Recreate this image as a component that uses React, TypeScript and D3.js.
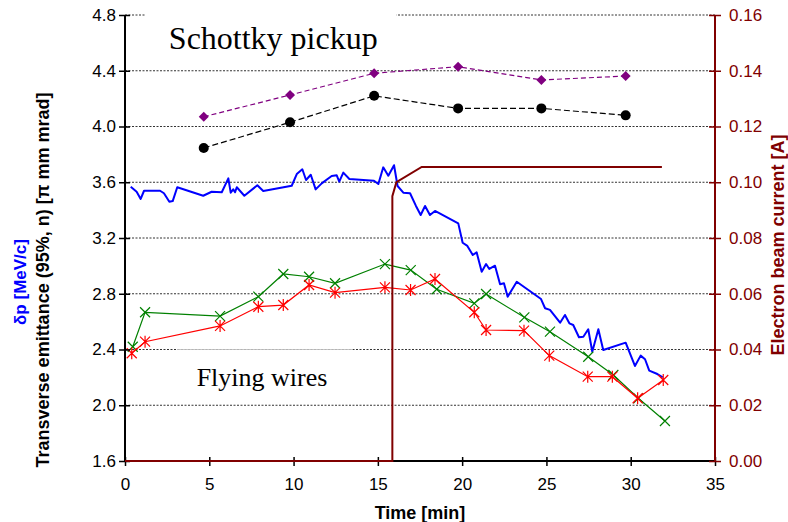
import * as d3 from "d3";
import { useEffect, useRef } from "react";

// Flying wires, horizontal plane (green x)
const wireTimesH = [0.46, 1.19, 5.64, 7.91, 9.39, 10.92, 12.46, 15.42, 16.95, 18.49, 20.72, 21.42, 23.69, 25.21, 27.48, 28.97, 30.45, 32.03];
const wireEmitH = [2.42, 2.667, 2.64, 2.779, 2.942, 2.922, 2.875, 3.013, 2.97, 2.832, 2.731, 2.798, 2.631, 2.528, 2.348, 2.217, 2.05, 1.887];
// Flying wires, vertical plane (red asterisk)
const wireTimesV = [0.4, 1.19, 5.64, 7.91, 9.39, 10.92, 12.46, 15.42, 16.94, 18.39, 20.72, 21.42, 23.67, 25.17, 27.45, 28.91, 30.41, 31.93];
const wireEmitV = [2.373, 2.456, 2.569, 2.707, 2.719, 2.863, 2.808, 2.846, 2.827, 2.906, 2.667, 2.54, 2.535, 2.356, 2.205, 2.205, 2.05, 2.181];

// Schottky pickup
const schottkyTimes = [4.67, 9.79, 14.78, 19.76, 24.7, 29.7];
const schottkyA = [4.07, 4.226, 4.382, 4.429, 4.334, 4.362];
const schottkyB = [3.846, 4.03, 4.22, 4.13, 4.13, 4.08];

// momentum spread dp (blue)
const dpTimes = [0.34, 0.69, 0.93, 1.13, 2.08, 2.31, 2.63, 2.83, 3.1, 4.64, 5.14, 5.74, 6.13, 6.27, 6.42, 6.53, 6.63, 7.08, 7.85, 8.2, 9.89, 10.19, 10.52, 10.74, 11.02, 11.31, 11.67, 12.26, 12.56, 12.71, 12.95, 13.31, 14.77, 15.03, 15.32, 15.62, 15.96, 16.17, 16.51, 16.91, 17.26, 17.54, 17.8, 18.09, 18.39, 19.77, 20.03, 20.31, 20.63, 20.86, 21.16, 21.42, 21.61, 21.95, 22.25, 22.48, 22.7, 23.24, 24.68, 24.92, 25.21, 25.81, 26.1, 26.36, 26.59, 26.93, 27.19, 27.48, 27.72, 28.08, 28.37, 29.7, 30.25, 30.59, 30.85, 31.1, 31.58, 31.9];
const dpValues = [3.568, 3.532, 3.48, 3.539, 3.539, 3.521, 3.46, 3.465, 3.564, 3.503, 3.532, 3.528, 3.628, 3.525, 3.549, 3.528, 3.564, 3.503, 3.578, 3.537, 3.575, 3.659, 3.693, 3.616, 3.654, 3.549, 3.592, 3.645, 3.65, 3.604, 3.669, 3.623, 3.611, 3.587, 3.707, 3.647, 3.722, 3.573, 3.525, 3.521, 3.43, 3.365, 3.43, 3.365, 3.394, 3.305, 3.166, 3.143, 3.078, 3.097, 2.958, 3.013, 2.978, 3.001, 2.868, 2.875, 2.779, 2.886, 2.762, 2.696, 2.684, 2.592, 2.648, 2.588, 2.576, 2.488, 2.492, 2.545, 2.384, 2.545, 2.396, 2.449, 2.282, 2.356, 2.33, 2.248, 2.224, 2.2];

// electron beam current
const currentTimes = [0, 15.86, 15.86, 16.1, 17.6, 31.85];
const currentValues = [0, 0, 0.095, 0.1, 0.1055, 0.1055];

const leftTicks = [1.6, 2.0, 2.4, 2.8, 3.2, 3.6, 4.0, 4.4, 4.8];
const rightTicks = [0, 0.02, 0.04, 0.06, 0.08, 0.1, 0.12, 0.14, 0.16];
const timeTicks = [0, 5, 10, 15, 20, 25, 30, 35];

const DARKRED = "#800000";

const App = () => {
  const svgRef = useRef<SVGSVGElement | null>(null);

  useEffect(() => {
    const svg = d3.select(svgRef.current);
    svg.selectAll("*").remove();

    const x = d3.scaleLinear().domain([0, 35]).range([125, 715]);
    const y = d3.scaleLinear().domain([1.6, 4.8]).range([461, 15]);
    const yI = d3.scaleLinear().domain([0, 0.16]).range([461, 15]);

    // grid
    svg
      .append("g")
      .selectAll("line")
      .data(leftTicks.slice(1))
      .enter()
      .append("line")
      .attr("x1", x(0))
      .attr("x2", x(35))
      .attr("y1", (d) => y(d))
      .attr("y2", (d) => y(d))
      .attr("stroke", "#333")
      .attr("stroke-width", 1)
      .attr("stroke-dasharray", "2,1.5");

    // text boxes
    svg
      .append("rect")
      .attr("x", x(1.2))
      .attr("y", y(4.8) - 2)
      .attr("width", x(16.1) - x(1.2))
      .attr("height", 48)
      .attr("fill", "white");
    svg
      .append("text")
      .attr("x", x(2.6))
      .attr("y", y(4.8) + 34)
      .attr("font-family", "Liberation Serif")
      .attr("font-size", 32)
      .text("Schottky pickup");

    svg
      .append("rect")
      .attr("x", x(3.1))
      .attr("y", y(2.4))
      .attr("width", x(13.5) - x(3.1))
      .attr("height", 46)
      .attr("fill", "white");
    svg
      .append("line")
      .attr("x1", x(3.1))
      .attr("x2", x(13.5))
      .attr("y1", y(2.4))
      .attr("y2", y(2.4))
      .attr("stroke", "#bbb")
      .attr("stroke-width", 0.8);
    svg
      .append("text")
      .attr("x", x(4.25))
      .attr("y", y(2.4) + 36)
      .attr("font-family", "Liberation Serif")
      .attr("font-size", 26)
      .text("Flying wires");

    const zip = (t: number[], v: number[]) => t.map((d, i) => [d, v[i]] as [number, number]);
    const line = d3
      .line<[number, number]>()
      .x((d) => x(d[0]))
      .y((d) => y(d[1]));

    // Schottky series
    const sA = zip(schottkyTimes, schottkyA);
    const sB = zip(schottkyTimes, schottkyB);
    svg
      .append("path")
      .datum(sA)
      .attr("fill", "none")
      .attr("stroke", "#800080")
      .attr("stroke-width", 1.2)
      .attr("stroke-dasharray", "5,3")
      .attr("d", line);
    svg
      .append("g")
      .selectAll("path")
      .data(sA)
      .enter()
      .append("path")
      .attr("transform", (d) => `translate(${x(d[0])},${y(d[1])})`)
      .attr("d", "M0,-5L5,0L0,5L-5,0Z")
      .attr("fill", "#800080");

    svg
      .append("path")
      .datum(sB)
      .attr("fill", "none")
      .attr("stroke", "#000")
      .attr("stroke-width", 1.2)
      .attr("stroke-dasharray", "6,3")
      .attr("d", line);
    svg
      .append("g")
      .selectAll("circle")
      .data(sB)
      .enter()
      .append("circle")
      .attr("cx", (d) => x(d[0]))
      .attr("cy", (d) => y(d[1]))
      .attr("r", 5)
      .attr("fill", "#000");

    // dp
    svg
      .append("path")
      .datum(zip(dpTimes, dpValues))
      .attr("fill", "none")
      .attr("stroke", "#0000ff")
      .attr("stroke-width", 2)
      .attr("stroke-linejoin", "round")
      .attr("d", line);

    // flying wires
    const wires = [
      { data: zip(wireTimesH, wireEmitH), color: "#008000", marker: "M-5,-5L5,5M-5,5L5,-5" },
      { data: zip(wireTimesV, wireEmitV), color: "#ff0000", marker: "M-5,-5L5,5M-5,5L5,-5M0,-6L0,6" },
    ];
    wires.forEach((w) => {
      svg
        .append("path")
        .datum(w.data)
        .attr("fill", "none")
        .attr("stroke", w.color)
        .attr("stroke-width", 1.2)
        .attr("d", line);
      svg
        .append("g")
        .selectAll("path")
        .data(w.data)
        .enter()
        .append("path")
        .attr("transform", (d) => `translate(${x(d[0])},${y(d[1])})`)
        .attr("d", w.marker)
        .attr("fill", "none")
        .attr("stroke", w.color)
        .attr("stroke-width", 1.2);
    });

    // axes
    const font = "Arial, Liberation Sans, sans-serif";
    const gL = svg
      .append("g")
      .attr("transform", `translate(${x(0)},0)`)
      .call(d3.axisLeft(y).tickValues(leftTicks).tickSize(6).tickFormat(d3.format(".1f")));
    gL.selectAll(".tick line").attr("x1", 5);
    const gB = svg
      .append("g")
      .attr("transform", `translate(0,${y(1.6)})`)
      .call(d3.axisBottom(x).tickValues(timeTicks).tickSize(5).tickPadding(12));
    gB.selectAll(".tick line").attr("y1", -4);
    const gR = svg
      .append("g")
      .attr("transform", `translate(${x(35)},0)`)
      .call(d3.axisRight(yI).tickValues(rightTicks).tickSize(6).tickPadding(8).tickFormat(d3.format(".2f")));
    gR.selectAll(".tick line").attr("x1", -6);

    [gL, gB].forEach((g) => {
      g.select(".domain").attr("stroke", "#000").attr("stroke-width", 2);
      g.selectAll(".tick line").attr("stroke", "#000").attr("stroke-width", 1.5);
      g.selectAll("text").attr("font-family", font).attr("font-size", 17).attr("fill", "#000");
    });
    gR.select(".domain").attr("stroke", DARKRED).attr("stroke-width", 2);
    gR.selectAll(".tick line").attr("stroke", DARKRED).attr("stroke-width", 1.5);
    gR.selectAll("text").attr("font-family", font).attr("font-size", 17).attr("fill", DARKRED);
    svg.selectAll(".domain").attr("d", function () {
      return d3.select(this).attr("d").replace(/[Hh]|V/g, (m) => m);
    });
    gL.select(".domain").attr("d", `M0,${y(4.8)}V${y(1.6)}`);
    gR.select(".domain").attr("d", `M0,${yI(0.16)}V${yI(0)}`);
    gB.select(".domain").attr("d", `M${x(0)},0H${x(35)}`);

    // electron current
    svg
      .append("path")
      .datum(zip(currentTimes, currentValues))
      .attr("fill", "none")
      .attr("stroke", DARKRED)
      .attr("stroke-width", 2)
      .attr(
        "d",
        d3
          .line<[number, number]>()
          .x((d) => x(d[0]))
          .y((d) => yI(d[1]))
      );

    // titles
    svg
      .append("text")
      .attr("transform", "translate(26,282) rotate(-90)")
      .attr("text-anchor", "middle")
      .attr("font-family", font)
      .attr("font-weight", "bold")
      .attr("font-size", 17)
      .attr("fill", "#0000ff")
      .text("δp [MeV/c]");
    svg
      .append("text")
      .attr("transform", "translate(49,280) rotate(-90)")
      .attr("text-anchor", "middle")
      .attr("font-family", font)
      .attr("font-weight", "bold")
      .attr("font-size", 18)
      .attr("fill", "#000")
      .text("Transverse emittance (95%, n) [π mm mrad]");
    svg
      .append("text")
      .attr("transform", "translate(784,245) rotate(-90)")
      .attr("text-anchor", "middle")
      .attr("font-family", font)
      .attr("font-weight", "bold")
      .attr("font-size", 18)
      .attr("fill", DARKRED)
      .text("Electron beam current  [A]");
    svg
      .append("text")
      .attr("x", x(17.5))
      .attr("y", 519)
      .attr("text-anchor", "middle")
      .attr("font-family", font)
      .attr("font-weight", "bold")
      .attr("font-size", 18)
      .attr("fill", "#000")
      .text("Time [min]");
  }, []);

  return (
    <svg
      ref={svgRef}
      width={788}
      height={522}
      style={{ position: "absolute", left: 0, top: 0, background: "#fff" }}
    ></svg>
  );
};

export default App;
